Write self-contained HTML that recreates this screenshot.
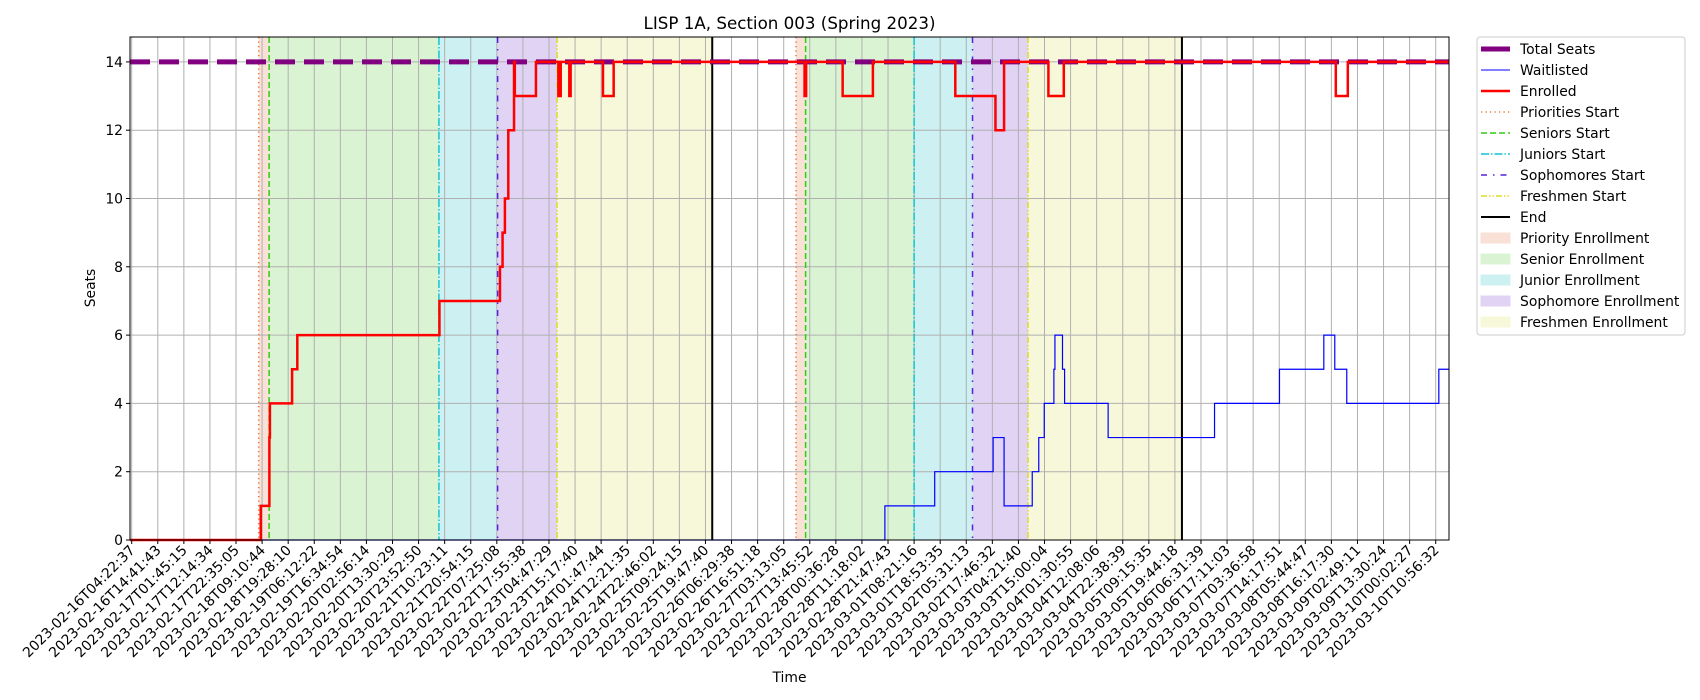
<!DOCTYPE html>
<html><head><meta charset="utf-8"><style>
body{margin:0;background:#fff;}
svg{display:block;font-family:"DejaVu Sans","Liberation Sans",sans-serif;}
</style></head><body>
<svg id="chart" width="1700" height="700" viewBox="0 0 1700 700" xmlns="http://www.w3.org/2000/svg">
<text x="789.5" y="29" font-size="16.7" text-anchor="middle">LISP 1A, Section 003 (Spring 2023)</text>
<text x="789.5" y="682" font-size="13.9" text-anchor="middle">Time</text>
<text transform="translate(95,288) rotate(-90)" font-size="13.9" text-anchor="middle">Seats</text>
<g id="plot"></g>
</svg>
<script>
const tickLabels = ["2023-02-16T04:22:37","2023-02-16T14:41:43","2023-02-17T01:45:15","2023-02-17T12:14:34","2023-02-17T22:35:05","2023-02-18T09:10:44","2023-02-18T19:28:10","2023-02-19T06:12:22","2023-02-19T16:34:54","2023-02-20T02:56:14","2023-02-20T13:30:29","2023-02-20T23:52:50","2023-02-21T10:23:11","2023-02-21T20:54:15","2023-02-22T07:25:08","2023-02-22T17:55:38","2023-02-23T04:47:29","2023-02-23T15:17:40","2023-02-24T01:47:44","2023-02-24T12:21:35","2023-02-24T22:46:02","2023-02-25T09:24:15","2023-02-25T19:47:40","2023-02-26T06:29:38","2023-02-26T16:51:18","2023-02-27T03:13:05","2023-02-27T13:45:52","2023-02-28T00:36:28","2023-02-28T11:18:02","2023-02-28T21:47:43","2023-03-01T08:21:16","2023-03-01T18:53:35","2023-03-02T05:31:13","2023-03-02T17:46:32","2023-03-03T04:21:40","2023-03-03T15:00:04","2023-03-04T01:30:55","2023-03-04T12:08:06","2023-03-04T22:38:39","2023-03-05T09:15:35","2023-03-05T19:44:18","2023-03-06T06:31:39","2023-03-06T17:11:03","2023-03-07T03:36:58","2023-03-07T14:17:51","2023-03-08T05:44:47","2023-03-08T16:17:30","2023-03-09T02:49:11","2023-03-09T13:30:24","2023-03-10T00:02:27","2023-03-10T10:56:32"];
const yTicks = [0,2,4,6,8,10,12,14];
const totalSeats = 14;
// x positions in tick-index units
const enrolledT = [-0.07,4.95,5.28,5.3,6.15,6.35,11.8,14.12,14.22,14.31,14.44,14.66,14.69,15.5,16.36,16.45,16.78,16.83,18.07,18.48,25.8,25.86,27.26,28.42,31.58,33.12,33.45,35.15,35.74,46.17,46.63];
const enrolledV = [0,1,3,4,5,6,7,8,9,10,12,14,13,14,13,14,13,14,13,14,13,14,13,14,13,12,14,13,14,13,14];
const waitT = [-0.07,28.88,30.79,33.03,33.45,34.53,34.78,34.99,35.36,35.40,35.69,35.77,37.44,41.52,44.01,45.71,46.13,46.59,50.12];
const waitV = [0,1,2,3,1,2,3,4,5,6,5,4,3,4,5,6,5,4,5];
const prioStart = [4.87,25.47];
const seniorStart = [5.27,25.84];
const juniorStart = [11.78,30.0];
const sophStart = [14.03,32.24];
const freshStart = [16.31,34.37];
const endT = [22.26,40.27];

const L=130,R=1449,T=37,B=540;
const X0=131.7, DX=26.08, XMIN=-0.07, XMAX=50.51;
const YMAX=(B-T)/34.15;
function xs(i){return X0+i*DX;}
function ys(v){return B-v*34.15;}
const NS="http://www.w3.org/2000/svg";
const g=document.getElementById('plot');
function el(tag,attrs,parent){const e=document.createElementNS(NS,tag);for(const k in attrs)e.setAttribute(k,attrs[k]);(parent||g).appendChild(e);return e;}

// shaded regions
const spans=[[prioStart,seniorStart,'#f9e1d7','priority-enrollment-region'],[seniorStart,juniorStart,'#daf4d3','senior-enrollment-region'],[juniorStart,sophStart,'#cdf0f2','junior-enrollment-region'],[sophStart,freshStart,'#e0d3f4','sophomore-enrollment-region'],[freshStart,endT,'#f7f8d9','freshmen-enrollment-region']];
spans.forEach(s=>{for(let k=0;k<2;k++){const r=el('rect',{x:xs(s[0][k]),y:T,width:xs(s[1][k])-xs(s[0][k]),height:B-T,fill:s[2]});

}});

// grid
tickLabels.forEach((lab,i)=>{const x=xs(i);const l=el('line',{x1:x,x2:x,y1:T,y2:B,stroke:'#b0b0b0','stroke-width':1});

});
yTicks.forEach(v=>{const l=el('line',{x1:L,x2:R,y1:ys(v),y2:ys(v),stroke:'#b0b0b0','stroke-width':1});

});

// vertical event lines
const vl=[[prioStart,'#e8743b','1.2 3.3',1.5,'priorities-start-line'],[seniorStart,'#33cc11','6 3',1.5,'seniors-start-line'],[juniorStart,'#11c4d4','8 2 1.5 2',1.5,'juniors-start-line'],[sophStart,'#5522dd','6 6 1.5 6',1.5,'sophomores-start-line'],[freshStart,'#dddd22','6 2 1.5 2 1.5 2',1.5,'freshmen-start-line'],[endT,'#000','',2,'end-line']];
vl.forEach(s=>{s[0].forEach(t=>{const a={x1:xs(t),x2:xs(t),y1:T,y2:B,stroke:s[1],'stroke-width':s[3]};if(s[2])a['stroke-dasharray']=s[2];const l=el('line',a);

});});

// total seats
const ts=el('line',{x1:L,x2:R,y1:ys(totalSeats),y2:ys(totalSeats),stroke:'#800080','stroke-width':5,'stroke-dasharray':'20 9'});



function stepPath(tArr,vArr){let d='M'+xs(tArr[0])+','+ys(vArr[0]);for(let k=1;k<tArr.length;k++){d+=' H'+xs(tArr[k])+' V'+ys(vArr[k]);}d+=' H'+xs(XMAX);return d;}
const wp=el('path',{d:stepPath(waitT,waitV),fill:'none',stroke:'#0000ff','stroke-width':1.2});


const ep=el('path',{d:stepPath(enrolledT,enrolledV),fill:'none',stroke:'#ff0000','stroke-width':2.5});



// axes frame
const fr=el('rect',{x:L,y:T,width:R-L,height:B-T,fill:'none',stroke:'#000','stroke-width':1});



// ticks + labels
tickLabels.forEach((lab,i)=>{const x=xs(i);el('line',{x1:x,x2:x,y1:B,y2:B+4,stroke:'#000'});
const t=el('text',{transform:`translate(${x+4},${B+11}) rotate(-45)`,'font-size':13.9,'text-anchor':'end'});t.textContent=lab;

});
yTicks.forEach(v=>{el('line',{x1:L-4,x2:L,y1:ys(v),y2:ys(v),stroke:'#000'});
const t=el('text',{x:L-7,y:ys(v)+5,'font-size':13.9,'text-anchor':'end'});t.textContent=v;

});

// legend
const lg=el('g',{});


el('rect',{x:1477,y:37,width:208,height:298,rx:3,fill:'#fff',stroke:'#ccc','stroke-width':1},lg);
const legendItems=[['Total Seats','line','#800080',5,''],['Waitlisted','line','#0000ff',1,''],['Enrolled','line','#ff0000',2.5,''],['Priorities Start','line','#e8743b',1.5,'1.2 3.3'],['Seniors Start','line','#33cc11',1.5,'6 3'],['Juniors Start','line','#11c4d4',1.5,'8 2 1.5 2'],['Sophomores Start','line','#5522dd',1.5,'6 6 1.5 6'],['Freshmen Start','line','#dddd22',1.5,'6 2 1.5 2 1.5 2'],['End','line','#000',2,''],['Priority Enrollment','patch','#f9e1d7'],['Senior Enrollment','patch','#daf4d3'],['Junior Enrollment','patch','#cdf0f2'],['Sophomore Enrollment','patch','#e0d3f4'],['Freshmen Enrollment','patch','#f7f8d9']];
legendItems.forEach((it,k)=>{const y=49+k*21;const eg=el('g',{},lg);


if(it[1]==='line'){const a={x1:1481,x2:1510,y1:y,y2:y,stroke:it[2],'stroke-width':it[3]};if(it[4])a['stroke-dasharray']=it[4];el('line',a,eg);}
else{el('rect',{x:1481,y:y-5,width:29,height:10,fill:it[2],stroke:it[2]},eg);}
const t=el('text',{x:1520,y:y+5,'font-size':13.9},eg);t.textContent=it[0];});
</script>
</body></html>
